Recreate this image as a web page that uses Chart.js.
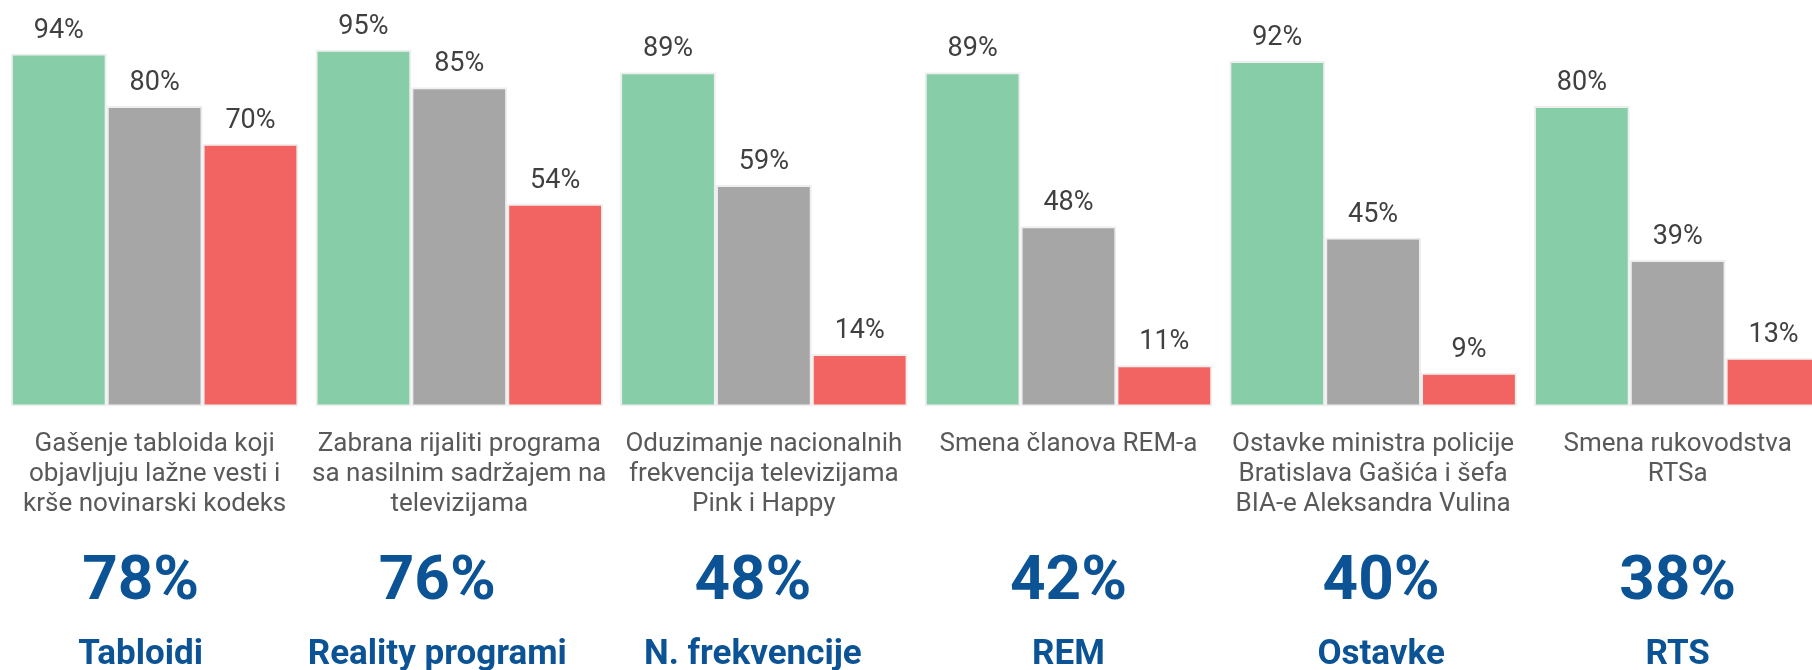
<!DOCTYPE html>
<html>
<head>
<meta charset="utf-8">
<script src="https://cdn.jsdelivr.net/npm/chart.js@4"></script>
<style>
  body { margin: 0; overflow: hidden; background: #fff; }
  #wrap { width: 1830px; height: 670px; }
</style>
</head>
<body>
<div id="wrap"><canvas id="myChart"></canvas></div>
<script>
// categories (multi-line labels under the bars)
let categories = [
  ["Gašenje tabloida koji", "objavljuju lažne vesti i", "krše novinarski kodeks"],
  ["Zabrana rijaliti programa", "sa nasilnim sadržajem na", "televizijama"],
  ["Oduzimanje nacionalnih", "frekvencija televizijama", "Pink i Happy"],
  ["Smena članova REM-a"],
  ["Ostavke ministra policije", "Bratislava Gašića i šefa", "BIA-e Aleksandra Vulina"],
  ["Smena rukovodstva", "RTSa"]
];
let greenValues = [94, 95, 89, 89, 92, 80];
let grayValues = [80, 85, 59, 48, 45, 39];
let redValues = [70, 54, 14, 11, 9, 13];
let totals = ["78%", "76%", "48%", "42%", "40%", "38%"];
let shortNames = ["Tabloidi", "Reality programi", "N. frekvencije", "REM", "Ostavke", "RTS"];

Chart.defaults.font.family = "Roboto";

// the blue text boxes are not exactly centred on their group
let boxShift = [-14, -22, -11, 0, 8, 0];

// value labels above bars + big totals and names under the axis
let textPlugin = {
  id: "texts",
  afterDatasetsDraw(chart) {
    let ctx = chart.ctx;
    ctx.save();
    ctx.textAlign = "center";
    ctx.textBaseline = "alphabetic";
    ctx.font = "27px Roboto";
    ctx.fillStyle = "#404040";
    chart.data.datasets.forEach(function (ds, i) {
      let meta = chart.getDatasetMeta(i);
      meta.data.forEach(function (bar, j) {
        ctx.fillText(ds.data[j] + "%", bar.x, bar.y - 16);
      });
    });
    let x = chart.scales.x;
    let bottom = chart.chartArea.bottom;
    ctx.fillStyle = "#0b5394";
    for (let k = 0; k < totals.length; k++) {
      let px = x.getPixelForValue(k) + boxShift[k];
      ctx.font = "bold 62px Roboto";
      ctx.fillText(totals[k], px, bottom + 192);
      ctx.font = "bold 35px Roboto";
      ctx.fillText(shortNames[k], px, bottom + 257);
    }
    ctx.restore();
  }
};

let mychart = document.getElementById("myChart").getContext("2d");

let myChart = new Chart(mychart, {
  type: "bar",
  data: {
    labels: categories,
    datasets: [
      { label: "green", data: greenValues, backgroundColor: "#86cda8" },
      { label: "gray", data: grayValues, backgroundColor: "#a6a6a6" },
      { label: "red", data: redValues, backgroundColor: "#f16461" }
    ]
  },
  options: {
    responsive: true,
    maintainAspectRatio: false,
    animation: false,
    datasets: {
      bar: {
        categoryPercentage: 0.944,
        barPercentage: 1,
        borderWidth: 2,
        borderColor: "#eeeeee",
        borderSkipped: false
      }
    },
    layout: { padding: { top: 31, bottom: 127, left: 0, right: 0 } },
    plugins: {
      legend: { display: false },
      tooltip: { enabled: false }
    },
    scales: {
      x: {
        grid: { display: false, drawTicks: false },
        border: { display: false },
        ticks: {
          padding: 23,
          maxRotation: 0,
          autoSkip: false,
          color: "#595959",
          font: { size: 26, lineHeight: 1.16 }
        }
      },
      y: {
        display: false,
        min: 0,
        max: 100
      }
    }
  },
  plugins: [textPlugin]
});
</script>
</body>
</html>
